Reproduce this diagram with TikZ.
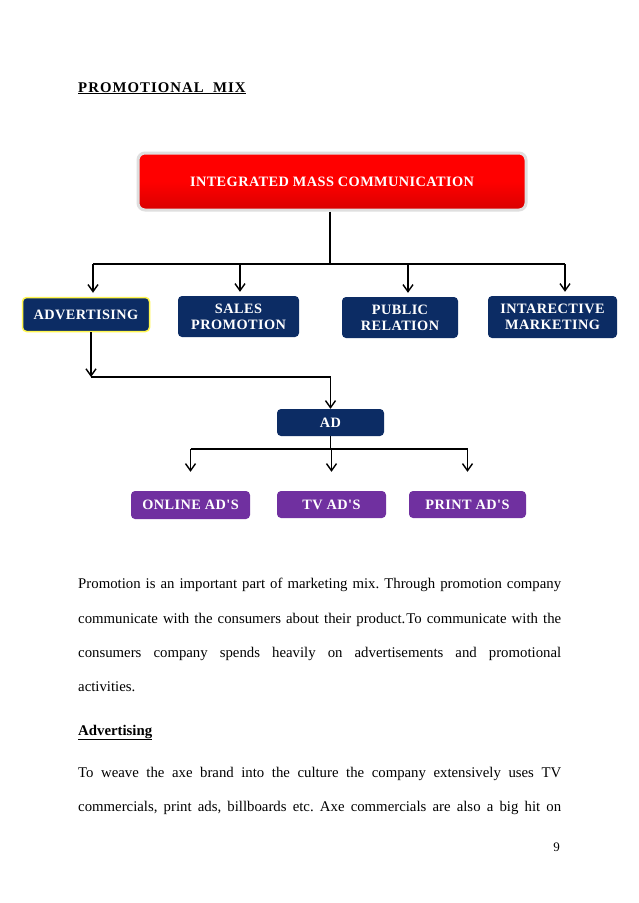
\documentclass[tikz,border=0pt]{standalone}
\usepackage{fontspec}
\setmainfont{Liberation Serif}
\newfontfamily\boxfont[LetterSpace=3]{Liberation Serif}
\newfontfamily\headfont[LetterSpace=7]{Liberation Serif}
\usetikzlibrary{arrows.meta}
\definecolor{navy}{HTML}{0C2C64}
\definecolor{adpurple}{HTML}{7030A0}
\definecolor{imcred}{HTML}{FF0000}
\frenchspacing

\begin{document}
\begin{tikzpicture}[x=1pt,y=-1pt,
  box/.style={rounded corners=4pt, text=white, align=center, inner sep=0pt,
    font=\boxfont\bfseries\fontsize{14.3}{16}\selectfont},
  navybox/.style={box, fill=navy},
  purplebox/.style={box, fill=adpurple},
  arr/.style={line width=1.3pt, -{Straight Barb[length=7pt,width=10pt,line width=1.4pt]}},
  line/.style={line width=1.3pt},
  body/.style={anchor=base west, inner sep=0pt, font=\fontsize{14.8}{17}\selectfont}]
\useasboundingbox[fill=white] (0,0) rectangle (638,903);

% Heading
\node[anchor=base west, inner sep=0pt, font=\headfont\bfseries\fontsize{14.8}{17}\selectfont]
  (title) at (78,92) {\underline{PROMOTIONAL\ \ MIX}};

% Top box
\node[box, top color=imcred, bottom color=imcred!85!black, middle color=imcred,
  draw=gray!25, line width=3pt, rounded corners=7pt,
  minimum width=388pt, minimum height=57pt] (imc) at (332,181.5) {INTEGRATED MASS COMMUNICATION};

% Second row
\node[navybox, draw=yellow!70, line width=1.5pt, minimum width=127pt, minimum height=34pt]
  (adv) at (86,314.5) {ADVERTISING};
\node[navybox, minimum width=121pt, minimum height=41pt] (sales) at (238.5,316.5) {SALES\\PROMOTION};
\node[navybox, minimum width=116pt, minimum height=41pt] (pr) at (400,317.5) {PUBLIC\\RELATION};
\node[navybox, minimum width=129pt, minimum height=42pt] (im) at (552.5,317) {INTARECTIVE\\MARKETING};

% AD and its children
\node[navybox, minimum width=107pt, minimum height=27pt] (ad) at (330.5,422.5) {AD};
\node[purplebox, minimum width=119pt, minimum height=28pt] (online) at (190.5,505) {ONLINE AD'S};
\node[purplebox, minimum width=109pt, minimum height=27pt] (tv) at (331.5,504.5) {TV AD'S};
\node[purplebox, minimum width=117pt, minimum height=27pt] (print) at (467.5,504.5) {PRINT AD'S};

% Connectors: top box to second row
\coordinate (bar) at (0,264);
\draw[line] ([xshift=-2pt]imc.south) -- ([xshift=-2pt]imc.south |- bar);
\draw[line] ([xshift=7pt]adv.north |- bar) -- ([xshift=12.5pt]im.north |- bar);
\foreach \n/\dx in {adv/7, sales/1.5, pr/8, im/12.5} {
  \draw[arr, shorten >=4pt] ([xshift=\dx pt]\n.north |- bar) -- ([xshift=\dx pt]\n.north);
}

% Connectors: advertising to AD
\coordinate (bar2) at (0,377);
\draw[arr] ([xshift=5pt]adv.south) -- ([xshift=5pt]adv.south |- bar2);
\draw[line] ([xshift=5pt]adv.south |- bar2) -- (ad.north |- bar2);
\draw[arr] (ad.north |- bar2) -- (ad.north);

% Connectors: AD to its children
\coordinate (bar3) at (0,449);
\draw[line] (ad.south) -- (ad.south |- bar3);
\draw[line] (online.north |- bar3) -- (print.north |- bar3);
\foreach \n in {online, tv, print} {
  \draw[arr, shorten >=19pt] (\n.north |- bar3) -- (\n.north);
}

% Body text
\node[body] (l1) at (78,588) {\makebox[483pt][s]{Promotion is an important part of marketing mix. Through promotion company}};
\node[body] (l2) at (78,623) {\makebox[483pt][s]{communicate with the consumers about their product.\kern1pt To communicate with the}};
\node[body] (l3) at (78,657) {\makebox[483pt][s]{consumers company spends heavily on advertisements and promotional}};
\node[body] (l4) at (78,691) {activities.};
\node[body, font=\bfseries\fontsize{14.8}{17}\selectfont] (sub) at (78,735) {\underline{Advertising}};
\node[body] (l5) at (78,777) {\makebox[483pt][s]{To weave the axe brand into the culture the company extensively uses TV}};
\node[body] (l6) at (78,811) {\makebox[483pt][s]{commercials, print ads, billboards etc. Axe commercials are also a big hit on}};
\node[body, anchor=base east, font=\fontsize{13}{15}\selectfont] (page) at (560,851) {9};
\end{tikzpicture}
\end{document}
